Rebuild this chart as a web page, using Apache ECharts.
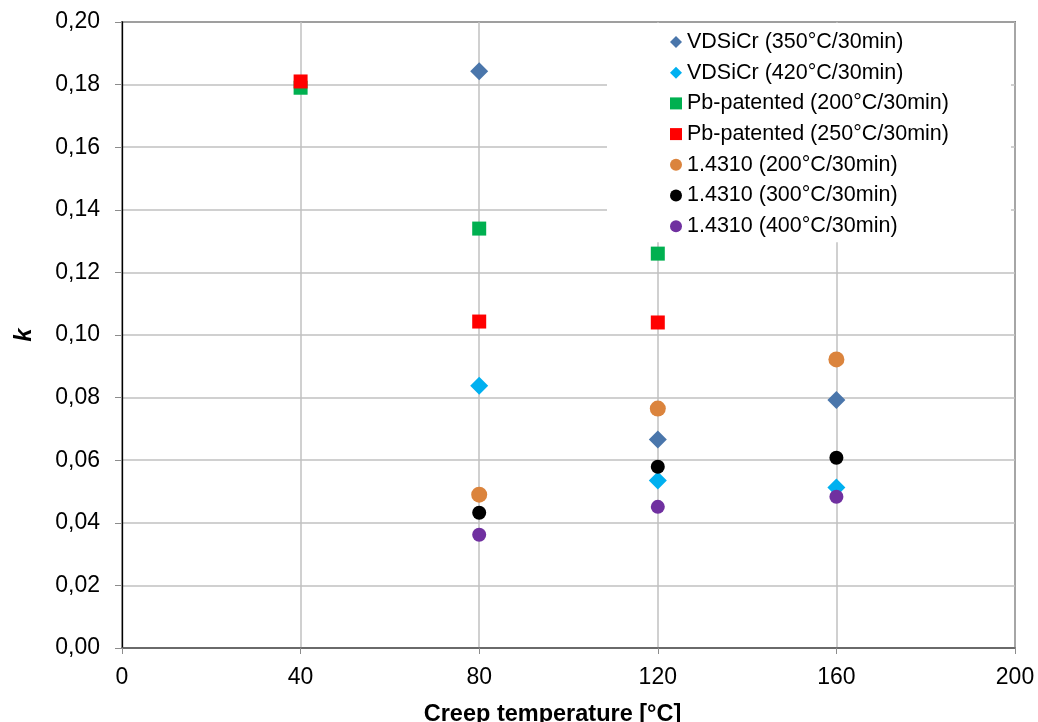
<!DOCTYPE html>
<html>
<head>
<meta charset="utf-8">
<script src="https://cdn.jsdelivr.net/npm/echarts@6/dist/echarts.min.js"></script>
<style>
html,body{margin:0;padding:0;background:#fff;}
#chart{width:1038px;height:722px;}
</style>
</head>
<body>
<div id="chart"></div>
<script>
// Data (x = creep temperature in °C, y = k; null = no measurement)
var temperatures = [40, 80, 120, 160];
var seriesNames = [
  'VDSiCr (350°C/30min)',
  'VDSiCr (420°C/30min)',
  'Pb-patented (200°C/30min)',
  'Pb-patented (250°C/30min)',
  '1.4310 (200°C/30min)',
  '1.4310 (300°C/30min)',
  '1.4310 (400°C/30min)'
];
var vdsicr350 = [null, 0.1843, 0.0666, 0.0792];
var vdsicr420 = [null, 0.0838, 0.0535, 0.0513];
var pbPat200  = [0.1790, 0.1340, 0.1260, null];
var pbPat250  = [0.1810, 0.1043, 0.1040, null];
var st200     = [null, 0.0490, 0.0765, 0.0922];
var st300     = [null, 0.0432, 0.0579, 0.0608];
var st400     = [null, 0.0362, 0.0451, 0.0483];
var xTicks = [0, 40, 80, 120, 160, 200];
var yTicks = [0, 0.02, 0.04, 0.06, 0.08, 0.10, 0.12, 0.14, 0.16, 0.18, 0.20];

var valueSets = [vdsicr350, vdsicr420, pbPat200, pbPat250, st200, st300, st400];
var symbols = ['diamond', 'diamond', 'rect', 'rect', 'circle', 'circle', 'circle'];
var sizes = [18, 18, 14, 14, 16, 14, 14];
var colors = ['#4A76AB', '#00B0F0', '#00B050', '#FF0000', '#DB843D', '#000000', '#7030A0'];

function pairs(vals) {
  var out = [];
  for (var i = 0; i < temperatures.length; i++) {
    if (vals[i] !== null) out.push([temperatures[i], vals[i]]);
  }
  return out;
}

var FONT = "'Liberation Sans', Arial, sans-serif";

var series = seriesNames.map(function (name, i) {
  return {
    name: name,
    type: 'scatter',
    symbol: symbols[i],
    symbolSize: sizes[i],
    itemStyle: { color: colors[i], opacity: 1 },
    emphasis: { disabled: true },
    data: pairs(valueSets[i])
  };
});

var chart = echarts.init(document.getElementById('chart'), null, { renderer: 'canvas' });
chart.setOption({
  animation: false,
  backgroundColor: '#ffffff',
  textStyle: { fontFamily: FONT },
  grid: {
    left: 122, right: 23, top: 22, bottom: 74,
    outerBoundsMode: 'none',
    containLabel: false,
    show: true, borderColor: '#000000', borderWidth: 1.3, backgroundColor: 'transparent'
  },
  legend: {
    orient: 'vertical',
    left: 607,
    top: 23,
    padding: [8, 62, 5, 63],
    backgroundColor: '#ffffff',
    itemWidth: 12,
    itemHeight: 12,
    itemGap: 8.7,
    textStyle: { fontFamily: FONT, fontSize: 21.5, color: '#000', lineHeight: 20, padding: [0, 0, 0, 0] },
    data: seriesNames.map(function (n, i) { return { name: n, icon: symbols[i] }; }),
    selectedMode: false
  },
  xAxis: {
    type: 'value',
    min: xTicks[0],
    max: xTicks[xTicks.length - 1],
    interval: 40,
    name: 'Creep temperature [°C]',
    nameLocation: 'middle',
    nameGap: 55,
    nameTextStyle: { fontFamily: FONT, fontSize: 23.5, fontWeight: 'bold', color: '#000', padding: [0, 32, 0, 0] },
    axisLine: { show: true, onZero: false, lineStyle: { color: '#595959', width: 1.6 } },
    axisTick: { show: true, length: 6, lineStyle: { color: '#8c8c8c', width: 1 } },
    axisLabel: { fontFamily: FONT, fontSize: 23, color: '#000', margin: 18 },
    splitLine: { show: true, lineStyle: { color: '#c0c0c0', width: 1.5 } }
  },
  yAxis: {
    type: 'value',
    min: yTicks[0],
    max: yTicks[yTicks.length - 1],
    interval: 0.02,
    name: 'k',
    nameLocation: 'middle',
    nameRotate: 90,
    nameGap: 86,
    nameTextStyle: { fontFamily: FONT, fontSize: 24, fontWeight: 'bold', fontStyle: 'italic', color: '#000' },
    axisLine: { show: true, onZero: false, lineStyle: { color: '#000000', width: 1.3 } },
    axisTick: { show: true, length: 7, lineStyle: { color: '#8c8c8c', width: 1 } },
    axisLabel: {
      fontFamily: FONT, fontSize: 23, color: '#000', margin: 22,
      formatter: function (v) { return v.toFixed(2).replace('.', ','); }
    },
    splitLine: { show: true, lineStyle: { color: '#c0c0c0', width: 1.5 } }
  },
  series: series
});
</script>
</body>
</html>
